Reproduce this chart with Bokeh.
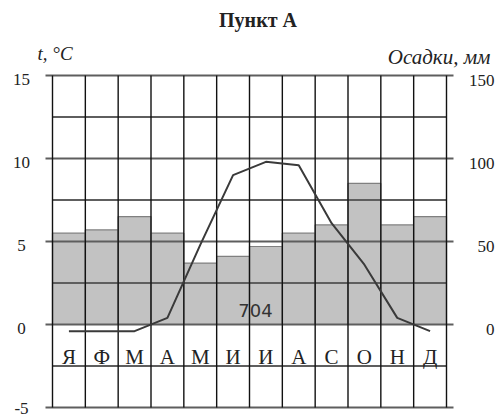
from bokeh.plotting import figure
from bokeh.models import Range1d, ColumnDataSource
from bokeh.core.properties import value
from bokeh.embed import file_html
from bokeh.resources import INLINE

months = ["Я", "Ф", "М", "А", "М", "И", "И", "А", "С", "О", "Н", "Д"]
temperature = [-0.4, -0.4, -0.4, 0.4, 4.8, 9.0, 9.8, 9.6, 6.1, 3.6, 0.4, -0.4]
precipitation = [55, 57, 65, 55, 37, 41, 47, 55, 60, 85, 60, 65]
total_precip = "704"
t_ticks = [-5, 0, 5, 10, 15]
t_minor = [-2.5, 2.5, 7.5, 12.5]
p_ticks = [0, 50, 100, 150]
title_text = "Пункт А"
left_label = "t, °C"
right_label = "Осадки, мм"

n = len(months)
xc = [i + 0.5 for i in range(n)]
src = ColumnDataSource(dict(x=xc, m=months, t=temperature, pr=precipitation))

W, H = 497, 419
mx = 394 / n          # px per month
my = 332 / 20         # px per degree
x0_px, y15_px = 52, 75
x_rng = Range1d(-x0_px / mx, (W - x0_px) / mx)
y_rng = Range1d(15 - (H - y15_px) / my, 15 + y15_px / my)

p = figure(width=W, height=H, x_range=x_rng, y_range=y_rng,
           output_backend="svg", toolbar_location=None,
           x_axis_location=None, y_axis_location=None,
           min_border=0)
p.outline_line_color = None
p.grid.visible = False
p.extra_y_ranges = {"precip": Range1d(y_rng.start * 10, y_rng.end * 10)}

# precipitation bars
p.vbar(x="x", width=1, top="pr", bottom=0, source=src, y_range_name="precip",
       fill_color="#c2c2c2", line_color="#808080", line_width=1.2)

# grid lines
ext = 7 / mx
bounds = list(range(n + 1))
p.segment(x0=0, x1=n, y0=t_minor, y1=t_minor, line_color="#5e5e5e", line_width=2)
p.segment(x0=-ext, x1=n + ext, y0=t_ticks, y1=t_ticks, line_color="#5e5e5e", line_width=2)
p.segment(x0=bounds, x1=bounds, y0=t_ticks[0], y1=t_ticks[-1], line_color="#111111", line_width=1.4)

# temperature line
p.line(x="x", y="t", source=src, line_color="#3a3a3a", line_width=2)

serif = value("Liberation Serif")

# month labels
p.text(x="x", y=-1.95, text="m", source=src, text_font=serif,
       text_font_size="21px", text_align="center", text_baseline="middle", text_color="#222222")

# total precipitation
p.text(x=[6.18], y=[0.84], text=[total_precip], text_font=value("DejaVu Sans"),
       text_font_size="18px", text_align="center", text_baseline="middle", text_color="#333333")

# tick labels (the lowest one is kept inside the picture)
left_off = [1 if tv == t_ticks[0] else 4 for tv in t_ticks]
p.text(x=[-0.944] * len(t_ticks), y=[tv - o / my for tv, o in zip(t_ticks, left_off)],
       text=[str(tv) for tv in t_ticks],
       text_font=serif, text_font_size="17px", text_align="center", text_baseline="middle",
       text_color="#222222")
p.text(x=[(494 - x0_px) / mx] * len(p_ticks), y=[pv / 10 - 5 / my for pv in p_ticks],
       text=[str(pv) for pv in p_ticks], text_font=serif, text_font_size="17px",
       text_align="right", text_baseline="middle", text_color="#222222")

# titles
p.text(x=[(257.5 - x0_px) / mx], y=[15 + (y15_px - 19) / my], text=[title_text], text_font=serif,
       text_font_size="20px", text_font_style="bold", text_align="center",
       text_baseline="middle", text_color="#222222")
p.text(x=[(37 - x0_px) / mx], y=[15 + (y15_px - 52.5) / my], text=[left_label], text_font=serif,
       text_font_size="19px", text_font_style="italic", text_align="left",
       text_baseline="middle", text_color="#222222")
p.text(x=[(490 - x0_px) / mx], y=[15 + (y15_px - 56.5) / my], text=[right_label], text_font=serif,
       text_font_size="21px", text_font_style="italic", text_align="right",
       text_baseline="middle", text_color="#222222")

open("out.html", "w").write(file_html(p, INLINE))
